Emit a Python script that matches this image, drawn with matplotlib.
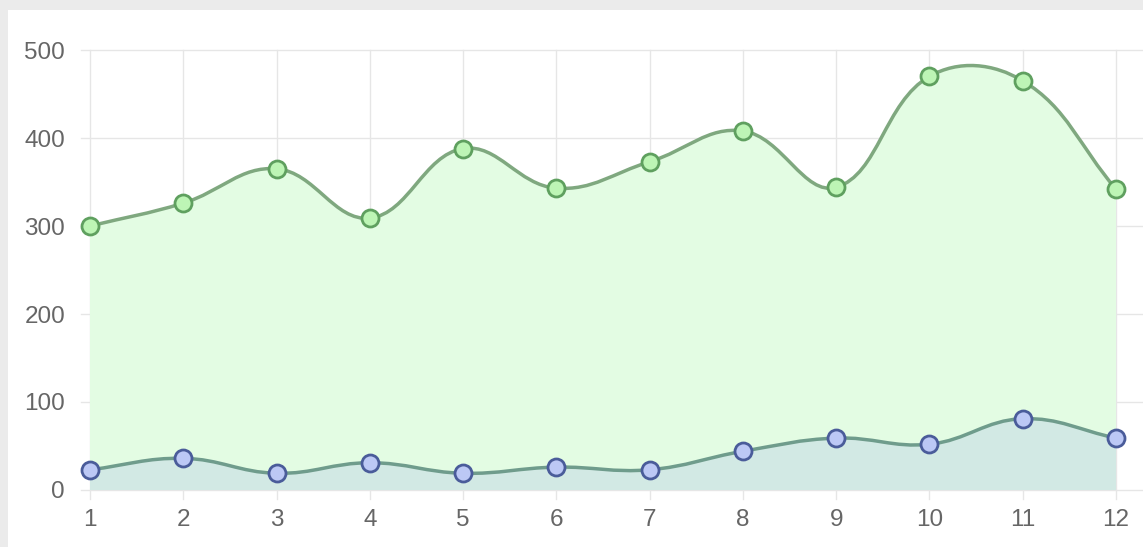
import numpy as np
import matplotlib
matplotlib.use('Agg')
import matplotlib.pyplot as plt
from matplotlib.path import Path
from matplotlib.patches import PathPatch, Rectangle

plt.rcParams['font.family'] = ['Liberation Sans', 'DejaVu Sans']

# chart data
months = [1, 2, 3, 4, 5, 6, 7, 8, 9, 10, 11, 12]
series_top = [300, 326, 365, 309, 388, 343, 373, 408, 344, 470, 465, 342]
series_low = [23, 36, 19, 31, 19, 26, 23, 44, 59, 52, 81, 59]

W, H = 1143, 547
fig = plt.figure(figsize=(W / 100, H / 100), dpi=100)
fig.patch.set_facecolor('#ebebeb')
fig.patches.append(Rectangle((8 / W, 0), 1, 1 - 10 / H, transform=fig.transFigure,
                             facecolor='white', edgecolor='none', zorder=-10))

left, right, top, bottom = 90, 1116, 50, 490
ax = fig.add_axes([left / W, 1 - bottom / H, (right - left) / W, (bottom - top) / H])
ax.set_facecolor('none')
ax.set_zorder(5)
ax.set_xlim(1, 12)
ax.set_ylim(0, 500)

# pixel scale for the spline control points (like Chart.js tension 0.4)
sx = (right - left) / 11.0
sy = (bottom - top) / 500.0


def spline_path(xs, ys, tension=0.4, close=False):
    px = np.array(xs, float) * sx
    py = np.array(ys, float) * sy
    n = len(px)
    cps = []
    for i in range(n):
        p0 = (px[max(i - 1, 0)], py[max(i - 1, 0)])
        p1 = (px[i], py[i])
        p2 = (px[min(i + 1, n - 1)], py[min(i + 1, n - 1)])
        d01 = np.hypot(p1[0] - p0[0], p1[1] - p0[1])
        d12 = np.hypot(p2[0] - p1[0], p2[1] - p1[1])
        tot = d01 + d12 if d01 + d12 > 0 else 1
        fa = tension * d01 / tot
        fb = tension * d12 / tot
        prev_cp = (p1[0] - fa * (p2[0] - p0[0]), p1[1] - fa * (p2[1] - p0[1]))
        next_cp = (p1[0] + fb * (p2[0] - p0[0]), p1[1] + fb * (p2[1] - p0[1]))
        cps.append((prev_cp, next_cp))
    verts = [(px[0] / sx, py[0] / sy)]
    codes = [Path.MOVETO]
    for i in range(n - 1):
        a = cps[i][1]
        b = cps[i + 1][0]
        verts += [(a[0] / sx, a[1] / sy), (b[0] / sx, b[1] / sy), (px[i + 1] / sx, py[i + 1] / sy)]
        codes += [Path.CURVE4] * 3
    if close:
        verts += [(xs[-1], 0), (xs[0], 0), (xs[0], ys[0])]
        codes += [Path.LINETO, Path.LINETO, Path.CLOSEPOLY]
    return Path(verts, codes)


# grid
for v in range(0, 501, 100):
    ax.plot([0.9, 12.3], [v, v], color='#e6e6e6', lw=1, zorder=1, clip_on=False)
for m in months:
    ax.plot([m, m], [-10, 500], color='#e6e6e6', lw=1, zorder=1, clip_on=False)

# areas
ax.add_patch(PathPatch(spline_path(months, series_top, close=True),
                       facecolor='#e3fce3', edgecolor='none', zorder=2))
ax.add_patch(PathPatch(spline_path(months, series_low, close=True),
                       facecolor='#d2e9e4', edgecolor='none', zorder=3))

# lines
ax.add_patch(PathPatch(spline_path(months, series_top), facecolor='none',
                       edgecolor='#7fa87f', lw=2.5, zorder=4, clip_on=False))
ax.add_patch(PathPatch(spline_path(months, series_low), facecolor='none',
                       edgecolor='#6f9c8c', lw=2.5, zorder=4, clip_on=False))

# points
ax.scatter(months, series_top, s=150, facecolor='#bdf5b5', edgecolor='#5fa05f',
           linewidth=2, zorder=5, clip_on=False)
ax.scatter(months, series_low, s=150, facecolor='#bcc8f5', edgecolor='#4a5c9a',
           linewidth=2, zorder=5, clip_on=False)

for s in ax.spines.values():
    s.set_visible(False)
ax.set_xticks(months)
ax.set_yticks(range(0, 501, 100))
ax.tick_params(length=0, labelsize=17.5, labelcolor='#666666')
ax.tick_params(axis='y', pad=18)
ax.tick_params(axis='x', pad=14)

plt.savefig('out.png', dpi=100)
